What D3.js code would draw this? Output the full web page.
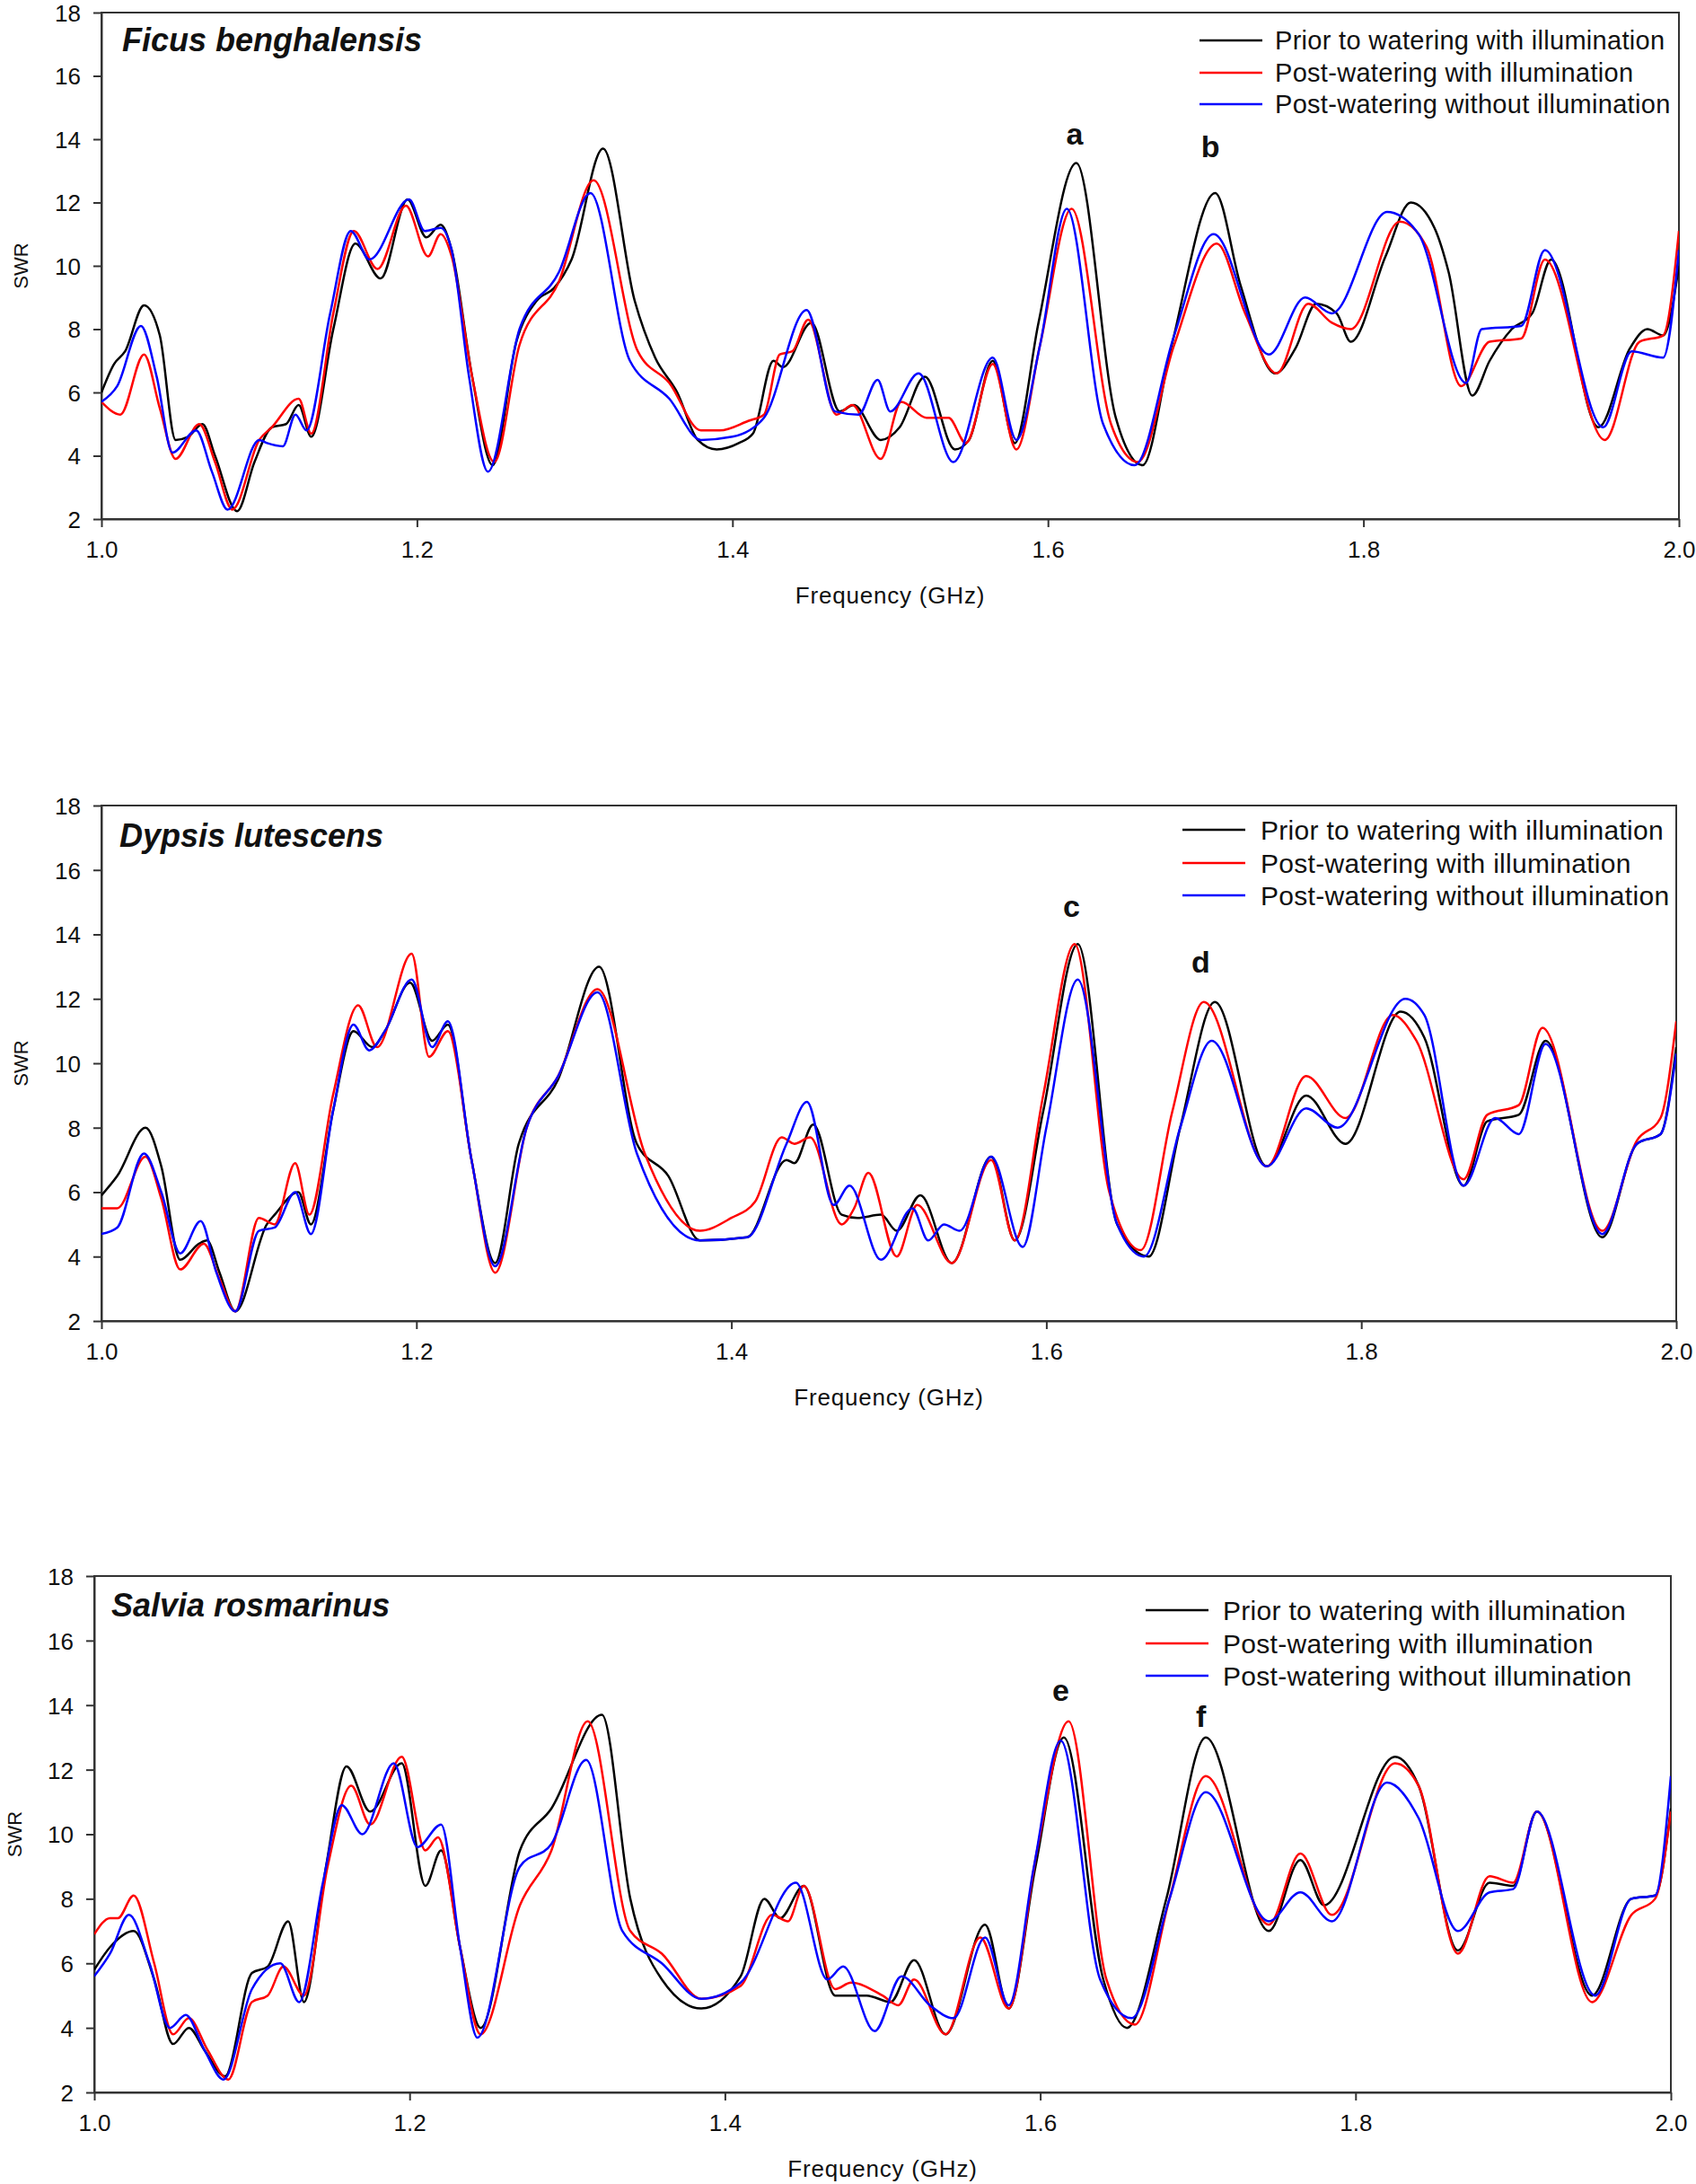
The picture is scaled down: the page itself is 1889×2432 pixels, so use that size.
<!DOCTYPE html>
<html><head><meta charset="utf-8">
<script src="https://cdn.jsdelivr.net/npm/d3@7"></script>
<style>
body{margin:0;background:#fff}
svg text{font-family:"Liberation Sans",Arial,sans-serif;fill:#111}
</style>
</head><body>
<svg id="chart" width="1889" height="2432"></svg>
<script>
// ---------- data ----------
const freqTicks = [1.0, 1.2, 1.4, 1.6, 1.8, 2.0];
const swrTicks = [2, 4, 6, 8, 10, 12, 14, 16, 18];
const seriesNames = ["Prior to watering with illumination", "Post-watering with illumination", "Post-watering without illumination"];
const panelTitles = ["Ficus benghalensis", "Dypsis lutescens", "Salvia rosmarinus"];

// [frequency GHz, SWR]
const ficusPrior = [[1.000,6.0],[1.008,6.9],[1.015,7.3],[1.027,8.75],[1.037,7.8],[1.047,4.5],[1.055,4.6],[1.064,5.0],[1.072,4.0],[1.086,2.25],[1.097,3.8],[1.108,4.9],[1.117,5.0],[1.125,5.6],[1.133,4.6],[1.147,8.0],[1.161,10.7],[1.177,9.6],[1.194,12.1],[1.206,10.9],[1.215,11.3],[1.222,10.5],[1.235,6.5],[1.248,3.7],[1.263,7.6],[1.276,8.9],[1.287,9.3],[1.298,10.2],[1.318,13.7],[1.338,8.9],[1.351,7.1],[1.365,6.0],[1.378,4.5],[1.390,4.2],[1.404,4.4],[1.413,4.7],[1.426,7.0],[1.432,6.8],[1.450,8.2],[1.468,5.4],[1.477,5.6],[1.494,4.5],[1.506,4.9],[1.522,6.5],[1.541,4.2],[1.550,4.5],[1.565,7.0],[1.579,4.4],[1.594,8.2],[1.618,13.25],[1.643,5.2],[1.660,3.7],[1.678,7.4],[1.706,12.3],[1.722,9.4],[1.744,6.6],[1.757,7.4],[1.770,8.8],[1.783,8.5],[1.792,7.6],[1.814,10.3],[1.830,12.0],[1.845,11.2],[1.854,9.8],[1.869,5.9],[1.880,7.0],[1.894,8.0],[1.907,8.5],[1.919,10.2],[1.949,4.9],[1.969,7.4],[1.980,8.0],[1.990,7.8],[2.000,10.0]];
const ficusPostLit = [[1.000,5.7],[1.012,5.3],[1.027,7.2],[1.037,5.5],[1.047,3.9],[1.062,5.0],[1.072,3.8],[1.083,2.3],[1.100,4.5],[1.108,4.9],[1.125,5.8],[1.133,4.7],[1.147,8.5],[1.160,11.1],[1.175,9.9],[1.193,11.9],[1.207,10.3],[1.215,11.0],[1.222,10.3],[1.235,6.5],[1.249,3.8],[1.265,7.5],[1.290,9.5],[1.312,12.7],[1.340,7.3],[1.360,6.3],[1.380,4.8],[1.392,4.8],[1.410,5.1],[1.420,5.3],[1.430,7.2],[1.438,7.3],[1.448,8.3],[1.466,5.3],[1.476,5.6],[1.494,3.9],[1.507,5.7],[1.523,5.2],[1.537,5.2],[1.548,4.4],[1.565,6.9],[1.580,4.2],[1.595,7.5],[1.615,11.8],[1.640,5.0],[1.657,3.8],[1.680,7.5],[1.707,10.7],[1.725,8.5],[1.745,6.6],[1.765,8.8],[1.780,8.2],[1.792,8.0],[1.823,11.4],[1.840,10.6],[1.862,6.2],[1.880,7.6],[1.900,7.7],[1.915,10.2],[1.953,4.5],[1.975,7.6],[1.990,7.8],[2.000,11.1]];
const ficusPostDark = [[1.000,5.7],[1.010,6.2],[1.025,8.1],[1.035,6.5],[1.045,4.1],[1.060,4.8],[1.070,3.5],[1.080,2.3],[1.100,4.5],[1.105,4.4],[1.115,4.3],[1.123,5.3],[1.130,4.8],[1.145,8.5],[1.158,11.1],[1.170,10.2],[1.195,12.1],[1.205,11.1],[1.215,11.2],[1.222,10.5],[1.233,6.5],[1.245,3.5],[1.265,8.0],[1.290,9.8],[1.310,12.3],[1.335,7.0],[1.360,5.8],[1.380,4.5],[1.400,4.6],[1.420,5.2],[1.447,8.6],[1.465,5.4],[1.480,5.3],[1.492,6.4],[1.500,5.4],[1.518,6.6],[1.540,3.8],[1.565,7.1],[1.580,4.5],[1.595,7.5],[1.612,11.8],[1.635,5.0],[1.655,3.7],[1.680,7.8],[1.705,11.0],[1.740,7.2],[1.763,9.0],[1.780,8.5],[1.815,11.7],[1.835,11.0],[1.865,6.3],[1.875,8.0],[1.900,8.1],[1.915,10.5],[1.952,4.9],[1.970,7.3],[1.990,7.1],[2.000,10.5]];

const dypsisPrior = [[1.000,5.9],[1.010,6.5],[1.028,8.0],[1.038,6.8],[1.050,3.9],[1.062,4.4],[1.067,4.5],[1.075,3.5],[1.085,2.3],[1.105,5.0],[1.110,5.3],[1.125,6.0],[1.133,5.0],[1.147,8.5],[1.160,11.0],[1.172,10.5],[1.180,11.0],[1.196,12.5],[1.210,10.7],[1.220,11.2],[1.235,7.0],[1.250,3.8],[1.265,7.5],[1.290,9.5],[1.316,13.0],[1.340,7.5],[1.360,6.5],[1.380,4.5],[1.410,4.6],[1.435,7.0],[1.440,6.9],[1.452,8.1],[1.470,5.3],[1.480,5.2],[1.495,5.3],[1.505,4.8],[1.520,5.9],[1.540,3.8],[1.565,7.1],[1.580,4.5],[1.598,8.5],[1.620,13.7],[1.645,5.0],[1.665,4.0],[1.685,8.0],[1.707,11.9],[1.740,6.8],[1.765,9.0],[1.790,7.5],[1.825,11.6],[1.840,10.8],[1.865,6.2],[1.880,8.2],[1.900,8.4],[1.917,10.7],[1.953,4.6],[1.975,7.5],[1.990,7.8],[2.000,10.5]];
const dypsisPostLit = [[1.000,5.5],[1.010,5.5],[1.028,7.1],[1.038,5.8],[1.050,3.6],[1.065,4.4],[1.075,3.3],[1.085,2.3],[1.100,5.2],[1.110,5.0],[1.123,6.9],[1.132,5.3],[1.147,9.0],[1.163,11.8],[1.175,10.5],[1.197,13.4],[1.208,10.2],[1.220,11.0],[1.235,7.0],[1.250,3.5],[1.270,8.0],[1.290,9.6],[1.315,12.3],[1.345,7.2],[1.380,4.8],[1.400,5.2],[1.415,5.7],[1.432,7.7],[1.440,7.5],[1.450,7.7],[1.470,5.0],[1.478,5.5],[1.487,6.6],[1.505,4.0],[1.518,5.6],[1.540,3.8],[1.565,7.0],[1.580,4.5],[1.598,9.0],[1.618,13.7],[1.640,6.0],[1.660,4.2],[1.680,8.5],[1.700,11.9],[1.740,6.8],[1.765,9.6],[1.790,8.3],[1.820,11.5],[1.835,10.7],[1.865,6.4],[1.880,8.4],[1.900,8.7],[1.915,11.1],[1.953,4.8],[1.975,7.6],[1.990,8.3],[2.000,11.3]];
const dypsisPostDark = [[1.000,4.7],[1.010,4.9],[1.027,7.2],[1.038,6.0],[1.050,4.1],[1.063,5.1],[1.073,3.5],[1.085,2.3],[1.100,4.8],[1.110,4.9],[1.123,6.0],[1.133,4.7],[1.147,8.5],[1.160,11.2],[1.170,10.4],[1.180,11.0],[1.197,12.6],[1.210,10.5],[1.220,11.3],[1.235,7.0],[1.250,3.7],[1.270,8.0],[1.290,9.6],[1.315,12.2],[1.340,7.2],[1.380,4.5],[1.410,4.6],[1.435,7.5],[1.448,8.8],[1.465,5.6],[1.475,6.2],[1.495,3.9],[1.515,5.5],[1.525,4.5],[1.535,5.0],[1.545,4.8],[1.565,7.1],[1.585,4.3],[1.600,8.0],[1.620,12.6],[1.645,5.0],[1.662,4.0],[1.685,8.0],[1.705,10.7],[1.740,6.8],[1.765,8.6],[1.785,8.0],[1.828,12.0],[1.840,11.5],[1.865,6.2],[1.885,8.3],[1.900,7.8],[1.917,10.6],[1.953,4.7],[1.975,7.5],[1.990,7.8],[2.000,10.3]];

const salviaPrior = [[1.000,5.8],[1.010,6.5],[1.025,7.0],[1.038,5.5],[1.050,3.5],[1.060,4.0],[1.070,3.3],[1.083,2.5],[1.100,5.7],[1.110,5.9],[1.123,7.3],[1.133,4.8],[1.147,9.0],[1.160,12.1],[1.175,10.7],[1.195,12.2],[1.210,8.4],[1.220,9.5],[1.232,6.5],[1.245,4.0],[1.270,9.5],[1.290,10.8],[1.322,13.7],[1.340,8.0],[1.360,5.5],[1.385,4.6],[1.410,5.6],[1.425,8.0],[1.435,7.4],[1.450,8.4],[1.470,5.0],[1.490,5.0],[1.505,4.8],[1.520,6.1],[1.540,3.8],[1.565,7.2],[1.580,4.6],[1.597,9.0],[1.615,13.0],[1.640,5.5],[1.655,4.0],[1.680,8.0],[1.705,13.0],[1.745,7.0],[1.765,9.2],[1.780,7.8],[1.825,12.4],[1.840,11.5],[1.865,6.4],[1.885,8.5],[1.900,8.4],[1.915,10.7],[1.950,5.0],[1.975,8.0],[1.990,8.1],[2.000,10.8]];
const salviaPostLit = [[1.000,6.9],[1.010,7.4],[1.015,7.4],[1.025,8.1],[1.038,6.0],[1.050,3.8],[1.060,4.3],[1.072,3.3],[1.085,2.4],[1.100,4.8],[1.110,5.0],[1.120,5.9],[1.133,5.0],[1.148,9.0],[1.163,11.5],[1.175,10.3],[1.195,12.4],[1.210,9.5],[1.218,9.9],[1.232,6.5],[1.245,3.8],[1.270,7.8],[1.290,9.5],[1.313,13.5],[1.340,7.0],[1.360,6.3],[1.385,4.9],[1.410,5.3],[1.430,7.5],[1.440,7.3],[1.450,8.4],[1.470,5.2],[1.480,5.4],[1.500,5.0],[1.510,4.7],[1.520,5.5],[1.540,3.8],[1.562,6.8],[1.580,4.6],[1.598,9.5],[1.618,13.5],[1.642,5.5],[1.660,4.1],[1.682,8.0],[1.705,11.8],[1.745,7.2],[1.765,9.4],[1.785,7.5],[1.825,12.2],[1.840,11.5],[1.865,6.3],[1.885,8.7],[1.900,8.5],[1.915,10.7],[1.950,4.8],[1.975,7.5],[1.990,8.0],[2.000,10.7]];
const salviaPostDark = [[1.000,5.6],[1.010,6.3],[1.022,7.5],[1.035,6.0],[1.048,4.0],[1.058,4.4],[1.070,3.3],[1.082,2.4],[1.100,5.2],[1.118,6.0],[1.130,4.8],[1.145,8.5],[1.157,10.9],[1.170,10.0],[1.190,12.2],[1.205,9.6],[1.220,10.3],[1.232,6.5],[1.243,3.7],[1.270,9.0],[1.290,9.7],[1.312,12.3],[1.335,7.0],[1.360,6.0],[1.385,4.9],[1.410,5.4],[1.445,8.5],[1.465,5.5],[1.475,5.9],[1.495,3.9],[1.512,5.6],[1.530,4.7],[1.545,4.3],[1.565,6.8],[1.580,4.7],[1.596,9.0],[1.613,12.9],[1.638,5.5],[1.658,4.3],[1.682,8.0],[1.705,11.3],[1.745,7.3],[1.765,8.2],[1.785,7.3],[1.820,11.6],[1.840,10.5],[1.865,7.0],[1.885,8.2],[1.900,8.3],[1.915,10.7],[1.952,5.0],[1.975,8.0],[1.990,8.1],[2.000,11.8]];

const panelSeries = [
  [ficusPrior, ficusPostLit, ficusPostDark],
  [dypsisPrior, dypsisPostLit, dypsisPostDark],
  [salviaPrior, salviaPostLit, salviaPostDark]
];
// peak annotations: [letter, frequency, SWR]
const peakNotes = [
  [["a", 1.617, 13.84], ["b", 1.703, 13.44]],
  [["c", 1.616, 14.54], ["d", 1.698, 12.82]],
  [["e", 1.613, 14.13], ["f", 1.702, 13.33]]
];

// ---------- layout ----------
const colors = ["#000000", "#ff0000", "#0000ff"];
const panels = [
  {left:113, right:1870, top:14,   bottom:578,  swrX:23, legLine:1336, legText:1420, legRows:[45,81,116],    legFont:29, titleX:136, titleY:57},
  {left:113, right:1867, top:897,  bottom:1471, swrX:23, legLine:1317, legText:1404, legRows:[924,961,997],  legFont:30, titleX:133, titleY:943},
  {left:105, right:1861, top:1755, bottom:2330, swrX:16, legLine:1276, legText:1362, legRows:[1793,1830,1866], legFont:30, titleX:124, titleY:1800}
];

const svg = d3.select("#chart");

panels.forEach((p, i) => {
  const x = d3.scaleLinear().domain([1.0, 2.0]).range([p.left, p.right]);
  const y = d3.scaleLinear().domain([2, 18]).range([p.bottom, p.top]);
  const g = svg.append("g");

  // frame
  g.append("rect").attr("x", p.left).attr("y", p.top)
    .attr("width", p.right - p.left).attr("height", p.bottom - p.top)
    .attr("fill", "none").attr("stroke", "#333").attr("stroke-width", 2);

  // axes
  const xAxis = d3.axisBottom(x).tickValues(freqTicks).tickFormat(d3.format(".1f")).tickSize(9).tickSizeOuter(0).tickPadding(16);
  const gx = g.append("g").attr("transform", `translate(0,${p.bottom})`).call(xAxis);
  const yAxis = d3.axisLeft(y).tickValues(swrTicks).tickFormat(d3.format("d")).tickSize(9).tickSizeOuter(0).tickPadding(14);
  const gy = g.append("g").attr("transform", `translate(${p.left},0)`).call(yAxis);
  [gx, gy].forEach(a => {
    a.select(".domain").attr("stroke", "#333").attr("stroke-width", 2);
    a.selectAll(".tick line").attr("stroke", "#333").attr("stroke-width", 2);
    a.selectAll(".tick text").attr("font-size", 26).attr("fill", "#111")
      .style("font-family", '"Liberation Sans",Arial,sans-serif');
  });
  gy.selectAll(".tick text").attr("dy", "0.36em");

  // lines
  const line = d3.line().x(d => x(d[0])).y(d => y(d[1])).curve(d3.curveMonotoneX);
  const clipId = "clip" + i;
  g.append("clipPath").attr("id", clipId).append("rect")
    .attr("x", p.left).attr("y", p.top).attr("width", p.right - p.left).attr("height", p.bottom - p.top);
  const lg = g.append("g").attr("clip-path", `url(#${clipId})`);
  panelSeries[i].forEach((s, k) => {
    lg.append("path").datum(s).attr("d", line)
      .attr("fill", "none").attr("stroke", colors[k]).attr("stroke-width", 2.5)
      .attr("stroke-linejoin", "round");
  });

  // axis titles
  g.append("text").attr("x", (p.left + p.right) / 2).attr("y", p.bottom + 94)
    .attr("text-anchor", "middle").attr("font-size", 26).attr("letter-spacing", 0.8)
    .text("Frequency (GHz)");
  g.append("text").attr("transform", `translate(${p.swrX + 8},${(p.top + p.bottom) / 2}) rotate(-90)`)
    .attr("text-anchor", "middle").attr("font-size", 22)
    .text("SWR");

  // panel title
  g.append("text").attr("x", p.titleX).attr("y", p.titleY)
    .attr("font-size", 36).attr("font-weight", "bold").attr("font-style", "italic")
    .text(panelTitles[i]);

  // legend
  seriesNames.forEach((name, k) => {
    const ry = p.legRows[k];
    g.append("line").attr("x1", p.legLine).attr("x2", p.legLine + 70).attr("y1", ry).attr("y2", ry)
      .attr("stroke", colors[k]).attr("stroke-width", 2.5);
    g.append("text").attr("x", p.legText).attr("y", ry).attr("dy", "0.35em")
      .attr("font-size", p.legFont).attr("letter-spacing", 0.3).text(name);
  });

  // peak letters
  peakNotes[i].forEach(n => {
    g.append("text").attr("x", x(n[1])).attr("y", y(n[2]))
      .attr("text-anchor", "middle").attr("font-size", 34).attr("font-weight", "bold")
      .text(n[0]);
  });
});
</script>
</body></html>
